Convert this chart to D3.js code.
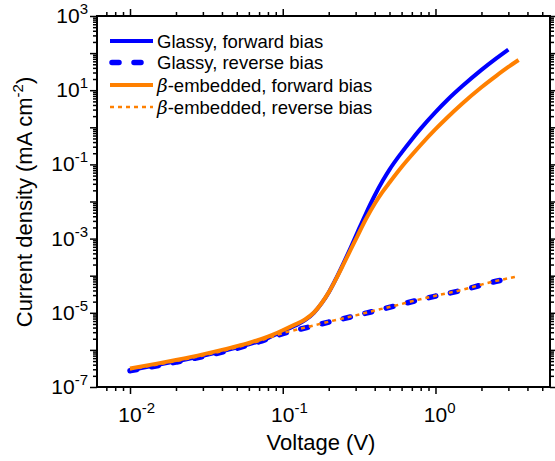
<!DOCTYPE html>
<html><head><meta charset="utf-8">
<script src="https://cdn.jsdelivr.net/npm/d3@7"></script>
<style>
body{margin:0;background:#fff}
svg{display:block}
text{font-family:"Liberation Sans",Arial,Helvetica,sans-serif;fill:#000}
</style>
</head><body>
<svg id="chart" width="555" height="461"></svg>
<script>
// ---------- data ----------
const glassyFwdV = [0.01,0.015,0.02,0.03,0.04,0.05,0.06,0.08,0.1,0.12,0.14,0.16,0.18,0.2,0.22,0.25,0.28,0.31,0.35,0.4,0.45,0.5,0.6,0.7,0.8,1.0,1.2,1.5,2.0,2.5,3.0];
const glassyFwdJ = [2.82e-7,3.89e-7,4.90e-7,6.92e-7,9.12e-7,1.15e-6,1.41e-6,2.09e-6,3.16e-6,4.47e-6,6.31e-6,1.00e-5,1.82e-5,3.55e-5,7.41e-5,2.19e-4,6.03e-4,1.55e-3,4.68e-3,1.45e-2,3.55e-2,7.24e-2,0.208,0.472,0.920,2.57,5.53,12.9,35.3,72.1,125];

const glassyRevV = [0.01,0.02,0.03,0.05,0.07,0.1,0.15,0.2,0.3,0.4,0.55,0.75,1.0,1.5,2.0,2.5,3.0];
const glassyRevJ = [2.75e-7,4.68e-7,6.61e-7,1.10e-6,1.66e-6,2.75e-6,4.17e-6,5.62e-6,8.32e-6,1.12e-5,1.55e-5,2.14e-5,2.82e-5,4.07e-5,5.62e-5,7.08e-5,8.32e-5];

const betaFwdV = [0.01,0.015,0.02,0.03,0.04,0.05,0.06,0.08,0.1,0.12,0.14,0.16,0.18,0.2,0.22,0.25,0.28,0.31,0.35,0.4,0.45,0.5,0.6,0.7,0.8,1.0,1.2,1.5,2.0,2.5,3.0,3.5];
const betaFwdJ = [3.16e-7,4.27e-7,5.37e-7,7.59e-7,1.00e-6,1.26e-6,1.55e-6,2.29e-6,3.39e-6,4.79e-6,6.61e-6,1.02e-5,1.84e-5,3.55e-5,7.24e-5,2.04e-4,5.25e-4,1.23e-3,3.31e-3,8.71e-3,1.82e-2,3.24e-2,8.49e-2,0.179,0.334,0.891,1.87,4.38,12.0,24.4,42.3,65.0];

const betaRevV = [0.01,0.02,0.03,0.05,0.07,0.1,0.15,0.2,0.3,0.4,0.55,0.75,1.0,1.5,2.0,2.5,3.0,3.5];
const betaRevJ = [3.02e-7,5.01e-7,7.08e-7,1.17e-6,1.74e-6,2.82e-6,4.27e-6,5.75e-6,8.51e-6,1.15e-5,1.58e-5,2.19e-5,2.88e-5,4.17e-5,5.75e-5,7.24e-5,8.51e-5,9.77e-5];

const seriesNames = ["Glassy, forward bias","Glassy, reverse bias","-embedded, forward bias","-embedded, reverse bias"];
const xTickExps = [-2,-1,0];
const yTickExps = [3,1,-1,-3,-5,-7];

// ---------- layout ----------
const svg = d3.select("#chart");
const L=97, R=550, T=16, B=387;
const x = d3.scaleLog().domain([0.00608, 5.62]).range([L, R]);
const y = d3.scaleLog().domain([1e-7, 1e3]).range([B, T]);

const BLUE = "#0000ff", ORANGE = "#ff8000";

// ---------- ticks ----------
const xMajor = [0.01,0.1,1];
const xMinor = [];
[0.001,0.01,0.1,1].forEach(d=>{for(let k=2;k<=9;k++){const v=d*k; if(v>=x.domain()[0]&&v<=x.domain()[1]) xMinor.push(v);}});
const yMajor = d3.range(-7,4).map(e=>Math.pow(10,e));
const yMinor = [];
d3.range(-7,3).forEach(e=>{for(let k=2;k<=9;k++) yMinor.push(k*Math.pow(10,e));});

function styleAxis(g){ g.select(".domain").remove(); g.selectAll("line").attr("stroke","#000").attr("stroke-width",1.5); g.selectAll("text").remove(); }

svg.append("g").attr("transform",`translate(0,${B})`).call(d3.axisBottom(x).tickValues(xMajor).tickSize(7)).call(styleAxis);
svg.append("g").attr("transform",`translate(0,${B})`).call(d3.axisBottom(x).tickValues(xMinor).tickSize(4)).call(styleAxis);
svg.append("g").attr("transform",`translate(0,${T})`).call(d3.axisTop(x).tickValues(xMajor).tickSize(7)).call(styleAxis);
svg.append("g").attr("transform",`translate(0,${T})`).call(d3.axisTop(x).tickValues(xMinor).tickSize(4)).call(styleAxis);
svg.append("g").attr("transform",`translate(${L},0)`).call(d3.axisLeft(y).tickValues(yMajor).tickSize(7)).call(styleAxis);
svg.append("g").attr("transform",`translate(${L},0)`).call(d3.axisLeft(y).tickValues(yMinor).tickSize(4)).call(styleAxis);
svg.append("g").attr("transform",`translate(${R},0)`).call(d3.axisRight(y).tickValues(yMajor).tickSize(7)).call(styleAxis);
svg.append("g").attr("transform",`translate(${R},0)`).call(d3.axisRight(y).tickValues(yMinor).tickSize(4)).call(styleAxis);

// ---------- data lines ----------
svg.append("clipPath").attr("id","clip").append("rect").attr("x",L).attr("y",T).attr("width",R-L).attr("height",B-T);
const line = d3.line().x(d=>x(d[0])).y(d=>y(d[1])).curve(d3.curveMonotoneX);
const plot = svg.append("g").attr("clip-path","url(#clip)");
const series = [
  {V:glassyFwdV, J:glassyFwdJ, color:BLUE, w:4, dash:null, cap:"butt"},
  {V:glassyRevV, J:glassyRevJ, color:BLUE, w:5.5, dash:"7,15", cap:"round"},
  {V:betaFwdV, J:betaFwdJ, color:ORANGE, w:4, dash:null, cap:"butt"},
  {V:betaRevV, J:betaRevJ, color:ORANGE, w:2.5, dash:"4,4", cap:"butt"}
];
series.forEach(s=>{
  plot.append("path").datum(s.V.map((v,i)=>[v,s.J[i]]))
    .attr("d",line).attr("fill","none").attr("stroke",s.color)
    .attr("stroke-width",s.w).attr("stroke-dasharray",s.dash)
    .attr("stroke-linecap",s.cap).attr("stroke-linejoin","round");
});

// frame
svg.append("rect").attr("x",L).attr("y",T).attr("width",R-L).attr("height",B-T)
  .attr("fill","none").attr("stroke","#000").attr("stroke-width",2);

// ---------- tick labels ----------
const FS = 21, SFS = 15;
xTickExps.forEach(e=>{
  const px = x(Math.pow(10,e));
  const t = svg.append("text").attr("y",422).attr("font-size",FS);
  const base = t.append("tspan").text("10");
  const w = base.node().getComputedTextLength();
  t.attr("x",px - w/2);
  t.append("tspan").attr("font-size",SFS).attr("dy",-9).text(String(e));
});
yTickExps.forEach(e=>{
  const py = y(Math.pow(10,e));
  const t = svg.append("text").attr("x",88).attr("y",py+7).attr("font-size",FS).attr("text-anchor","end");
  t.append("tspan").text("10");
  t.append("tspan").attr("font-size",SFS).attr("dy",-9).text(String(e));
});

// ---------- axis titles ----------
svg.append("text").attr("x",321).attr("y",450).attr("font-size",22).attr("text-anchor","middle").text("Voltage (V)");
const yt = svg.append("text").attr("transform","translate(32,202) rotate(-90)").attr("font-size",22).attr("text-anchor","middle");
yt.append("tspan").text("Current density (mA cm");
yt.append("tspan").attr("font-size",15).attr("dy",-9).text("-2");
yt.append("tspan").attr("dy",9).text(")");

// ---------- legend ----------
const legRows = [41, 62.5, 85, 107];
series.forEach((s,i)=>{
  const ly = legRows[i];
  svg.append("line").attr("x1",s.cap==="round"?112:110).attr("x2",153).attr("y1",ly).attr("y2",ly)
    .attr("stroke",s.color).attr("stroke-width",s.w).attr("stroke-dasharray",s.dash)
    .attr("stroke-linecap",s.cap);
  const t = svg.append("text").attr("x",157).attr("y",ly+6.5).attr("font-size",18.5);
  if(i>=2){
    t.append("tspan").attr("font-style","italic").attr("font-family","'DejaVu Serif',serif").text("β");
  }
  t.append("tspan").text(seriesNames[i]);
});
</script>
</body></html>
